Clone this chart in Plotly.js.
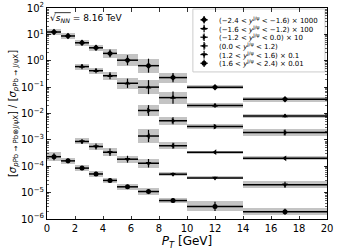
<!DOCTYPE html>
<html><head><meta charset="utf-8">
<script src="https://cdn.plot.ly/plotly-3.0.1.min.js"></script>
<style>html,body{margin:0;padding:0;background:#fff}#chart{width:340px;height:250px}</style>
</head><body><div id="chart"></div>
<script>
// pT bins
const binCenters = [0.5, 1.5, 2.5, 3.5, 4.5, 5.75, 7.25, 9, 12, 17];
const binWidths  = [1, 1, 1, 1, 1, 1.5, 1.5, 2, 4, 6];

// series labels and first bin index
const seriesLabels = [
  '(−2.4 < <i>y</i><sup>J/ψ</sup> < −1.6) × 1000',
  '(−1.6 < <i>y</i><sup>J/ψ</sup> < −1.2) × 100',
  '(−1.2 < <i>y</i><sup>J/ψ</sup> < 0.0) × 10',
  '(0.0 < <i>y</i><sup>J/ψ</sup> < 1.2)',
  '(1.2 < <i>y</i><sup>J/ψ</sup> < 1.6) × 0.1',
  '(1.6 < <i>y</i><sup>J/ψ</sup> < 2.4) × 0.01'
];
const seriesFirstBin = [0, 2, 6, 6, 2, 0];
const seriesSymbols = ['diamond', 'triangle-up', 'triangle-right', 'triangle-left', 'triangle-down', 'circle'];

// values (scaled ratios)
const valuesA = [12.3, 8.7, 4.8, 3.1, 1.9, 1.05, 0.65, 0.23, 0.10, 0.035];
const valuesB = [0.60, 0.42, 0.27, 0.14, 0.10, 0.040, 0.020, 0.0081];
const valuesC = [0.0130, 0.0053, 0.0032, 0.0019];
const valuesD = [0.0014, 0.00060, 0.00034, 0.00020];
const valuesE = [8.7e-4, 5.6e-4, 3.4e-4, 1.85e-4, 1.3e-4, 5.0e-5, 3.6e-5, 2.0e-5];
const valuesF = [2.3e-4, 1.6e-4, 8.5e-5, 5.1e-5, 2.9e-5, 1.66e-5, 1.1e-5, 5.0e-6, 3.0e-6, 1.9e-6];

// systematic uncertainty (multiplicative factors, box)
const sysA = [1.30, 1.27, 1.30, 1.30, 1.48, 1.66, 1.84, 1.55, 1.19, 1.24];
const sysB = [1.30, 1.30, 1.42, 1.64, 1.84, 1.69, 1.24, 1.19];
const sysC = [1.66, 1.39, 1.24, 1.33];
const sysD = [1.79, 1.38, 1.14, 1.19];
const sysE = [1.30, 1.33, 1.42, 1.38, 1.51, 1.19, 1.14, 1.33];
const sysF = [1.45, 1.28, 1.27, 1.30, 1.28, 1.28, 1.33, 1.24, 1.55, 1.38];

// statistical uncertainty (multiplicative factors, bars)
const statA = [1.25, 1.22, 1.25, 1.25, 1.40, 1.55, 1.84, 1.50, 1.15, 1.20];
const statB = [1.25, 1.25, 1.35, 1.50, 1.84, 1.70, 1.20, 1.15];
const statC = [1.60, 1.35, 1.20, 1.30];
const statD = [1.70, 1.30, 1.12, 1.15];
const statE = [1.25, 1.30, 1.40, 1.35, 1.45, 1.15, 1.12, 1.30];
const statF = [1.35, 1.22, 1.20, 1.20, 1.20, 1.20, 1.25, 1.20, 1.50, 1.30];

const yTickVals = [1e-6, 1e-5, 1e-4, 1e-3, 1e-2, 1e-1, 1e0, 1e1, 1e2];
const yTickText = ['10<sup>−6</sup>','10<sup>−5</sup>','10<sup>−4</sup>','10<sup>−3</sup>','10<sup>−2</sup>','10<sup>−1</sup>','10<sup>0</sup>','10<sup>1</sup>','10<sup>2</sup>'];

const allValues = [valuesA, valuesB, valuesC, valuesD, valuesE, valuesF];
const allSys = [sysA, sysB, sysC, sysD, sysE, sysF];
const allStat = [statA, statB, statC, statD, statE, statF];

const FONT = 'DejaVu Sans, sans-serif';
const traces = [];
const boxTraces = [];
for (let s = 0; s < 6; s++) {
  const v = allValues[s], sy = allSys[s], st = allStat[s];
  const i0 = seriesFirstBin[s];
  const xs = binCenters.slice(i0, i0 + v.length);
  const ws = binWidths.slice(i0, i0 + v.length);
  boxTraces.push({
    type: 'bar', x: xs, width: ws,
    base: v.map((y, i) => y / sy[i]),
    y: v.map((y, i) => y * sy[i] - y / sy[i]),
    marker: {color: '#c4c4c4', line: {width: 0}},
    showlegend: false, hoverinfo: 'skip'
  });
  traces.push({
    type: 'scatter', mode: 'markers', x: xs, y: v,
    marker: {symbol: seriesSymbols[s], size: 5, color: '#000'},
    error_x: {type: 'data', array: ws.map(w => w / 2), thickness: 1.5, width: 0, color: '#000'},
    error_y: {type: 'data', symmetric: false,
      array: v.map((y, i) => y * (st[i] - 1)),
      arrayminus: v.map((y, i) => y * (1 - 1 / st[i])),
      thickness: 1.2, width: 0, color: '#000'},
    showlegend: false, hoverinfo: 'skip'
  });
}

// manual legend (keys on an overlay 0..1 axis)
const legX = 0.561, legTextX = 0.608, legTop = 0.944, legStep = 0.0412;
const legendKeys = {
  type: 'scatter', mode: 'markers', xaxis: 'x2', yaxis: 'y2',
  x: seriesLabels.map(() => legX),
  y: seriesLabels.map((_, i) => legTop - i * legStep),
  marker: {symbol: seriesSymbols, size: 5, color: '#000'},
  error_x: {type: 'constant', value: 0.013, thickness: 1.2, width: 0, color: '#000'},
  error_y: {type: 'constant', value: 0.018, thickness: 1.2, width: 0, color: '#000'},
  showlegend: false, hoverinfo: 'skip'
};

const annotations = seriesLabels.map((t, i) => ({
  xref: 'paper', yref: 'paper', x: legTextX, y: legTop - i * legStep,
  xanchor: 'left', yanchor: 'middle', showarrow: false, text: t,
  font: {family: FONT, size: 7, color: '#000'}
}));
annotations.push({
  xref: 'paper', yref: 'paper', x: 0.004, y: 0.948, xanchor: 'left', yanchor: 'middle',
  showarrow: false, text: '√<i>s</i><sub><i>NN</i></sub> = 8.16 TeV',
  font: {family: FONT, size: 9, color: '#000'}
});

const layout = {
  width: 340, height: 250,
  margin: {l: 47, r: 13, t: 8, b: 31},
  paper_bgcolor: '#fff', plot_bgcolor: '#fff',
  font: {family: FONT, size: 10, color: '#000'},
  barmode: 'overlay', bargap: 0,
  showlegend: false,
  xaxis: {
    range: [0, 20], dtick: 2, tick0: 0,
    ticks: 'inside', ticklen: 3.5, tickwidth: 0.8, tickcolor: '#000',
    showline: true, linecolor: '#000', linewidth: 1, mirror: 'allticks',
    showgrid: false, zeroline: false,
    tickfont: {family: FONT, size: 10, color: '#000'},
    title: {text: '<i>P</i><sub><i>T</i></sub> [GeV]', font: {family: FONT, size: 12, color: '#000'}, standoff: 2}
  },
  yaxis: {
    type: 'log', range: [-6, 2],
    tickmode: 'array', tickvals: yTickVals, ticktext: yTickText,
    ticks: 'inside', ticklen: 3.5, tickwidth: 0.8, tickcolor: '#000',
    minor: {ticks: 'inside', ticklen: 2, tickwidth: 0.6, tickcolor: '#000', dtick: 'D1', showgrid: false},
    showline: true, linecolor: '#000', linewidth: 1, mirror: 'allticks',
    showgrid: false, zeroline: false,
    tickfont: {family: FONT, size: 10, color: '#000'},
    title: {text: '[<i>σ</i><sub><i>p</i>Pb → Pb⊗J/ψX</sub>] / [<i>σ</i><sub><i>p</i>Pb → J/ψX</sub>]',
            font: {family: FONT, size: 10, color: '#000'}, standoff: 2}
  },
  xaxis2: {overlaying: 'x', range: [0, 1], visible: false, fixedrange: true},
  yaxis2: {overlaying: 'y', range: [0, 1], visible: false, fixedrange: true},
  shapes: [
    {type: 'rect', xref: 'paper', yref: 'paper', x0: 0.521, x1: 0.993, y0: 0.697, y1: 0.995,
     fillcolor: 'rgba(255,255,255,0.9)', line: {color: '#cccccc', width: 1}, layer: 'below'},
    {type: 'line', xref: 'paper', yref: 'paper', x0: 0.027, x1: 0.085, y0: 0.978, y1: 0.978,
     line: {color: '#000', width: 0.8}}
  ],
  annotations: annotations
};

Plotly.newPlot('chart', boxTraces.concat(traces).concat([legendKeys]), layout, {displayModeBar: false, staticPlot: true});
</script>
</body></html>
